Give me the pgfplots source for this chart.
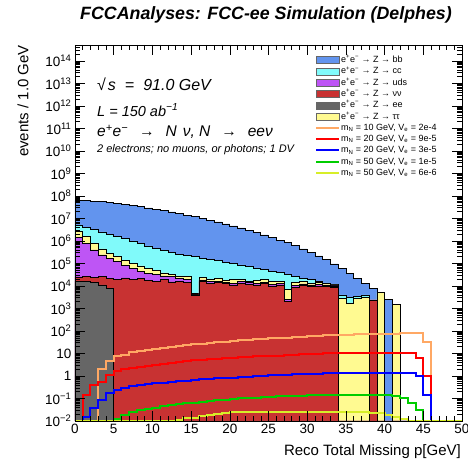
\documentclass[border=0pt]{standalone}
\usepackage{fontspec}
\setmainfont{Liberation Sans}
\usepackage{pgfplots}
\usepackage{pgfplotstable}
\pgfplotsset{compat=1.18}

\definecolor{bgbb}{RGB}{98,148,238}
\definecolor{bgcc}{RGB}{128,250,250}
\definecolor{bguds}{RGB}{190,85,245}
\definecolor{bgnn}{RGB}{200,50,50}
\definecolor{bgee}{RGB}{102,102,102}
\definecolor{bgtt}{RGB}{255,250,145}
\definecolor{sigOrange}{RGB}{255,168,100}
\definecolor{sigRed}{RGB}{255,0,0}
\definecolor{sigBlue}{RGB}{0,0,255}
\definecolor{sigGreen}{RGB}{0,205,0}
\definecolor{sigYellow}{RGB}{215,238,40}

% cumulative stacked totals per 1 GeV bin (bin left edge in x)
\pgfplotstableread{
x bb cc tt uds nn ee
0 6.31e7 5.13e6 2.82e6 1.41e6 2.51e4 1.58e4
1 6.17e7 3.98e6 1.58e6 7.94e5 2.75e4 1.58e4
2 5.89e7 3.16e6 7.94e5 3.98e5 2.40e4 1.41e4
3 5.50e7 2.51e6 4.47e5 2.40e5 2.63e4 1.12e4
4 5.01e7 2.00e6 2.82e5 1.70e5 2.24e4 7.94e3
5 4.57e7 1.58e6 2.00e5 1.20e5 2.00e4 0.01
6 4.17e7 1.26e6 1.41e5 8.51e4 2.29e4 0.01
7 3.72e7 1.00e6 1.00e5 6.17e4 1.91e4 0.01
8 3.31e7 7.59e5 7.76e4 4.37e4 2.09e4 0.01
9 2.95e7 6.03e5 6.03e4 3.55e4 1.78e4 0.01
10 2.57e7 4.79e5 4.79e4 3.16e4 1.66e4 0.01
11 2.24e7 3.80e5 3.80e4 2.82e4 1.91e4 0.01
12 1.95e7 3.16e5 3.16e4 2.57e4 1.51e4 0.01
13 1.66e7 2.63e5 2.82e4 2.24e4 1.66e4 0.01
14 1.41e7 2.29e5 2.63e4 2.00e4 1.41e4 0.01
15 1.20e7 2.00e5 4.79e3 4.17e3 3.98e3 0.01
16 1.02e7 1.74e5 2.40e4 1.86e4 1.58e4 0.01
17 8.51e6 1.51e5 2.00e4 1.55e4 1.32e4 0.01
18 7.08e6 1.32e5 2.14e4 1.66e4 1.41e4 0.01
19 5.75e6 1.15e5 1.78e4 1.48e4 1.26e4 0.01
20 4.68e6 1.00e5 1.91e4 1.32e4 1.12e4 0.01
21 3.80e6 8.71e4 2.00e4 1.55e4 1.32e4 0.01
22 3.02e6 7.59e4 1.66e4 1.41e4 1.20e4 0.01
23 2.40e6 6.31e4 1.78e4 1.32e4 1.12e4 0.01
24 1.86e6 5.25e4 1.91e4 1.48e4 1.26e4 0.01
25 1.45e6 4.57e4 1.58e4 1.17e4 1.00e4 0.01
26 1.10e6 3.98e4 1.66e4 1.32e4 1.12e4 0.01
27 8.32e5 3.39e4 7.08e3 2.63e3 2.00e3 0.01
28 6.17e5 2.63e4 1.41e4 1.05e4 8.91e3 0.01
29 4.47e5 2.24e4 1.58e4 1.23e4 1.05e4 0.01
30 3.16e5 1.91e4 1.32e4 1.12e4 9.55e3 0.01
31 2.19e5 1.58e4 1.41e4 1.17e4 1.00e4 0.01
32 1.48e5 1.38e4 1.26e4 1.12e4 9.55e3 0.01
33 9.55e4 1.20e4 1.12e4 1.00e4 8.91e3 0.01
34 6.03e4 3.98e3 2.82e3 0.01 0.01 0.01
35 3.63e4 3.16e3 1.78e3 0.01 0.01 0.01
36 2.14e4 3.55e3 2.82e3 0.01 0.01 0.01
37 1.26e4 3.98e3 3.16e3 0.01 0.01 0.01
38 7.94e3 2.40e3 2.40e3 2.40e3 2.40e3 0.01
39 5.25e3 5.25e3 5.25e3 0.01 0.01 0.01
40 2.51e3 0.01 0.01 0.01 0.01 0.01
41 1.58e3 1.58e3 1.58e3 0.01 0.01 0.01
42 0.01 0.01 0.01 0.01 0.01 0.01
43 0.01 0.01 0.01 0.01 0.01 0.01
44 0.01 0.01 0.01 0.01 0.01 0.01
45 0.01 0.01 0.01 0.01 0.01 0.01
46 0.01 0.01 0.01 0.01 0.01 0.01
47 0.01 0.01 0.01 0.01 0.01 0.01
48 0.01 0.01 0.01 0.01 0.01 0.01
49 0.01 0.01 0.01 0.01 0.01 0.01
50 0.01 0.01 0.01 0.01 0.01 0.01
}\stack

% signal histograms
\pgfplotstableread{
x sa sb sc sd se
0 0.01 0.01 0.01 0.01 0.01
1 0.01 0.145 0.0155 0.0105 0.01
2 0.01 0.398 0.0363 0.0105 0.01
3 2.00 0.562 0.0851 0.0105 0.01
4 4.79 1.10 0.170 0.0105 0.01
5 7.59 1.66 0.240 0.0126 0.01
6 8.91 2.00 0.302 0.0191 0.01
7 11.2 2.29 0.355 0.0240 0.01
8 12.6 2.57 0.398 0.0302 0.01
9 14.1 2.82 0.437 0.0355 0.01
10 15.8 3.09 0.468 0.0398 0.01
11 17.4 3.39 0.501 0.0447 0.01
12 19.1 3.72 0.537 0.0501 0.01
13 20.9 4.07 0.575 0.0550 0.0112
14 22.9 4.47 0.617 0.0603 0.0132
15 25.1 4.90 0.661 0.0661 0.0141
16 27.5 5.25 0.708 0.0724 0.0166
17 29.5 5.62 0.741 0.0776 0.0186
18 31.6 5.89 0.776 0.0832 0.0200
19 33.9 6.17 0.813 0.0891 0.0219
20 36.3 6.46 0.851 0.0955 0.0240
21 38.0 6.76 0.891 0.100 0.0251
22 40.7 7.08 0.933 0.105 0.0257
23 42.7 7.41 0.977 0.110 0.0245
24 44.7 7.59 1.02 0.115 0.0257
25 46.8 7.94 1.07 0.120 0.0257
26 49.0 8.13 1.10 0.126 0.0251
27 51.3 8.51 1.15 0.129 0.0257
28 53.7 8.71 1.17 0.132 0.0257
29 56.2 9.12 1.20 0.135 0.0263
30 58.9 9.33 1.23 0.138 0.0257
31 61.7 9.77 1.26 0.145 0.0257
32 64.6 10.2 1.32 0.145 0.0257
33 66.1 10.2 1.32 0.145 0.0263
34 67.6 10.2 1.32 0.145 0.0257
35 69.2 10.2 1.32 0.145 0.0257
36 70.8 10.5 1.32 0.145 0.0251
37 72.4 10.2 1.32 0.145 0.0251
38 72.4 10.2 1.32 0.145 0.0234
39 74.1 10.5 1.35 0.141 0.0219
40 74.1 10.2 1.32 0.141 0.0178
41 75.9 10.2 1.32 0.126 0.0151
42 79.4 10.5 1.32 0.100 0.0117
43 79.4 10.2 1.41 0.0617 0.01
44 79.4 6.31 1.00 0.0316 0.01
45 31.6 1.00 0.145 0.01 0.01
46 0.01 0.01 0.01 0.01 0.01
47 0.01 0.01 0.01 0.01 0.01
48 0.01 0.01 0.01 0.01 0.01
49 0.01 0.01 0.01 0.01 0.01
50 0.01 0.01 0.01 0.01 0.01
}\sig

\def\minorlist{0.02}
\foreach \e in {-2,...,14}{\foreach \m in {2,...,9}{\xdef\minorlist{\minorlist,\m e\e}}}

\begin{document}
\begin{tikzpicture}[x=1pt,y=1pt]
\useasboundingbox (-75,-44) rectangle (393,421);
\begin{axis}[
  scale only axis, width=387pt, height=376pt,
  xmin=0, xmax=50, ymode=log, ymin=1e-2, ymax=5.1e14,
  log origin=infty,
  xtick={0,5,...,50}, minor x tick num=4,
  ytick={1e-2,1e-1,1,1e1,1e2,1e3,1e4,1e5,1e6,1e7,1e8,1e9,1e10,1e11,1e12,1e13,1e14},
  yticklabels={10\textsuperscript{−2},10\textsuperscript{−1},1,10,10\textsuperscript{2},10\textsuperscript{3},10\textsuperscript{4},10\textsuperscript{5},10\textsuperscript{6},10\textsuperscript{7},10\textsuperscript{8},10\textsuperscript{9},10\textsuperscript{10},10\textsuperscript{11},10\textsuperscript{12},10\textsuperscript{13},10\textsuperscript{14}},
  minor ytick/.expand once={\minorlist},
  major tick length=10pt, minor tick length=5pt,
  tick style={black, line width=0.5pt},
  axis line style={line width=0.8pt},
  ticklabel style={font=\fontsize{13.5}{14}\selectfont},
  /pgf/number format/assume math mode=true,
  axis on top,
  legend cell align=left,
  legend style={at={(0.62,0.975)}, anchor=north west, draw=none, fill=none,
    font=\fontsize{9}{10}\selectfont, row sep=0.3pt, inner sep=0pt,
    nodes={inner sep=1pt, text height=7pt, text depth=2pt}},
]
\addplot[const plot mark left, fill=bgbb, draw=black, line width=0.6pt, forget plot] table[x=x,y=bb]{\stack} \closedcycle;
\addplot[const plot mark left, fill=bgcc, draw=black, line width=0.6pt, forget plot] table[x=x,y=cc]{\stack} \closedcycle;
\addplot[const plot mark left, fill=bgtt, draw=black, line width=0.6pt, forget plot] table[x=x,y=tt]{\stack} \closedcycle;
\addplot[const plot mark left, fill=bguds, draw=black, line width=0.6pt, forget plot] table[x=x,y=uds]{\stack} \closedcycle;
\addplot[const plot mark left, fill=bgnn, draw=black, line width=0.6pt, forget plot] table[x=x,y=nn]{\stack} \closedcycle;
\addplot[const plot mark left, fill=bgee, draw=black, line width=0.6pt, forget plot] table[x=x,y=ee]{\stack} \closedcycle;

\addplot[const plot mark left, color=sigOrange, line width=2pt, forget plot] table[x=x,y=sa]{\sig};
\addplot[const plot mark left, color=sigRed, line width=2pt, forget plot] table[x=x,y=sb]{\sig};
\addplot[const plot mark left, color=sigBlue, line width=2pt, forget plot] table[x=x,y=sc]{\sig};
\addplot[const plot mark left, color=sigGreen, line width=2pt, forget plot] table[x=x,y=sd]{\sig};
\addplot[const plot mark left, color=sigYellow, line width=2pt, forget plot] table[x=x,y=se]{\sig};

\addlegendimage{legend image code/.code={\draw[fill=bgbb,draw=black!60] (0pt,-3.5pt) rectangle (23pt,3.5pt);}}
\addlegendentry{e\textsuperscript{+}e\textsuperscript{−} → Z → bb}
\addlegendimage{legend image code/.code={\draw[fill=bgcc,draw=black!60] (0pt,-3.5pt) rectangle (23pt,3.5pt);}}
\addlegendentry{e\textsuperscript{+}e\textsuperscript{−} → Z → cc}
\addlegendimage{legend image code/.code={\draw[fill=bguds,draw=black!60] (0pt,-3.5pt) rectangle (23pt,3.5pt);}}
\addlegendentry{e\textsuperscript{+}e\textsuperscript{−} → Z → uds}
\addlegendimage{legend image code/.code={\draw[fill=bgnn,draw=black!60] (0pt,-3.5pt) rectangle (23pt,3.5pt);}}
\addlegendentry{e\textsuperscript{+}e\textsuperscript{−} → Z → νν}
\addlegendimage{legend image code/.code={\draw[fill=bgee,draw=black!60] (0pt,-3.5pt) rectangle (23pt,3.5pt);}}
\addlegendentry{e\textsuperscript{+}e\textsuperscript{−} → Z → ee}
\addlegendimage{legend image code/.code={\draw[fill=bgtt,draw=black!60] (0pt,-3.5pt) rectangle (23pt,3.5pt);}}
\addlegendentry{e\textsuperscript{+}e\textsuperscript{−} → Z → ττ}
\addlegendimage{legend image code/.code={\draw[sigOrange,line width=2pt] (0pt,0pt) -- (23pt,0pt);}}
\addlegendentry{m\textsubscript{N} = 10 GeV, V\textsubscript{e} = 2e-4}
\addlegendimage{legend image code/.code={\draw[sigRed,line width=2pt] (0pt,0pt) -- (23pt,0pt);}}
\addlegendentry{m\textsubscript{N} = 20 GeV, V\textsubscript{e} = 9e-5}
\addlegendimage{legend image code/.code={\draw[sigBlue,line width=2pt] (0pt,0pt) -- (23pt,0pt);}}
\addlegendentry{m\textsubscript{N} = 20 GeV, V\textsubscript{e} = 3e-5}
\addlegendimage{legend image code/.code={\draw[sigGreen,line width=2pt] (0pt,0pt) -- (23pt,0pt);}}
\addlegendentry{m\textsubscript{N} = 50 GeV, V\textsubscript{e} = 1e-5}
\addlegendimage{legend image code/.code={\draw[sigYellow,line width=2pt] (0pt,0pt) -- (23pt,0pt);}}
\addlegendentry{m\textsubscript{N} = 50 GeV, V\textsubscript{e} = 6e-6}
\end{axis}

\node at (191,406) {\fontsize{17.8}{21}\selectfont\bfseries\itshape FCCAnalyses: FCC-ee Simulation (Delphes)};
\node[anchor=west, inner sep=0pt] at (22,337) {\fontsize{16}{18}\selectfont\itshape √\kern2pt s\hspace{9pt}=\hspace{9pt}91.0 GeV};
\node[anchor=west, inner sep=0pt] at (22,311) {\fontsize{14.5}{18}\selectfont\itshape L = 150 ab\textsuperscript{−1}};
\node[anchor=west, inner sep=0pt] at (22,289) {\fontsize{15.5}{18}\selectfont\itshape e\textsuperscript{+}e\textsuperscript{−}\hspace{11pt}→\hspace{11pt}N\hspace{6pt}ν, N\hspace{11pt}→\hspace{11pt}eeν};
\node[anchor=west, inner sep=0pt] at (22,271) {\fontsize{11}{13}\selectfont\itshape 2 electrons; no muons, or photons; 1 DV};
\node[anchor=east, inner sep=0pt] at (386,-31) {\fontsize{15}{18}\selectfont Reco Total Missing p[GeV]};
\node[rotate=90, anchor=east, inner sep=0pt] at (-52,376) {\fontsize{15}{18}\selectfont events / 1.0 GeV};
\end{tikzpicture}
\end{document}
